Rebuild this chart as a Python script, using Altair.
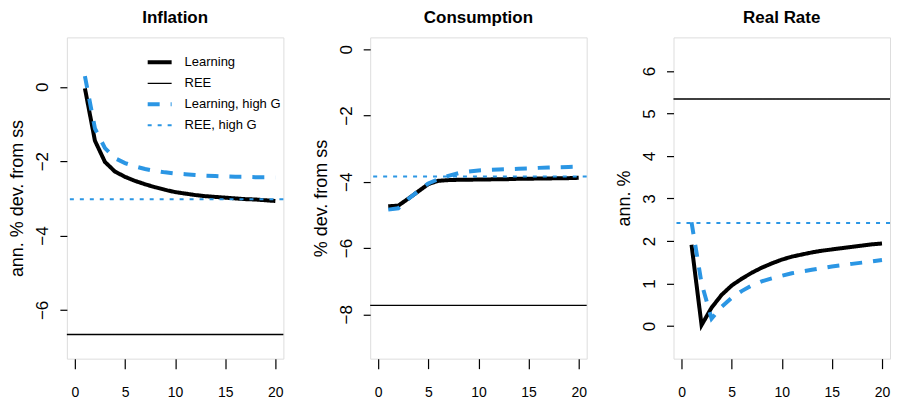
import altair as alt
import pandas as pd

# ---------------- data ----------------
periods = list(range(1, 21))
series_names = ["Learning", "REE", "Learning, high G", "REE, high G"]

infl_learn = [-0.04, -1.45, -2.02, -2.28, -2.42, -2.53, -2.62, -2.70, -2.77, -2.83,
              -2.87, -2.91, -2.94, -2.96, -2.98, -3.00, -3.02, -3.03, -3.05, -3.07]
infl_learn_g = [0.29, -1.12, -1.65, -1.92, -2.05, -2.14, -2.21, -2.26, -2.30, -2.33,
                -2.35, -2.37, -2.39, -2.40, -2.41, -2.42, -2.42, -2.43, -2.43, -2.44]
infl_ree = -6.66
infl_ree_g = -3.02

cons_learn = [-4.74, -4.72, -4.51, -4.29, -4.07, -3.97, -3.95, -3.94, -3.94, -3.93,
              -3.93, -3.92, -3.92, -3.91, -3.91, -3.90, -3.90, -3.89, -3.89, -3.88]
cons_learn_g = [-4.84, -4.80, -4.52, -4.28, -4.05, -3.92, -3.82, -3.74, -3.69, -3.66,
                -3.64, -3.63, -3.62, -3.61, -3.60, -3.58, -3.57, -3.56, -3.55, -3.54]
cons_ree = -7.73
cons_ree_g = -3.84

rate_learn = [1.91, 0.02, 0.43, 0.73, 0.95, 1.11, 1.25, 1.37, 1.47, 1.56,
              1.63, 1.68, 1.73, 1.77, 1.80, 1.83, 1.86, 1.89, 1.92, 1.94]
rate_learn_g = [2.44, 1.00, 0.17, 0.45, 0.66, 0.82, 0.95, 1.05, 1.12, 1.18,
                1.24, 1.28, 1.32, 1.36, 1.40, 1.43, 1.46, 1.49, 1.52, 1.55]
rate_ree = 5.34
rate_ree_g = 2.42

x_ticks = [0, 5, 10, 15, 20]

# ---------------- styling ----------------
BLUE = "#2B96E4"
colors = ["#000000", "#000000", BLUE, BLUE]
dashes = [[1, 0], [1, 0], [12, 11], [4, 6]]
widths = [4, 1.3, 4, 2]
FONT = "Liberation Sans, Arial"
W, H = 217, 322


def panel(title, ytitle, learn, learn_g, ree, ree_g, ydomain, yticks, show_legend):
    paths = pd.DataFrame({
        "t": periods + periods,
        "value": learn + learn_g,
        "series": ["Learning"] * 20 + ["Learning, high G"] * 20,
    })
    levels = pd.DataFrame({"value": [ree, ree_g], "series": ["REE", "REE, high G"]})

    if show_legend:
        leg = alt.Legend(title=None, orient="none", legendX=79, legendY=11,
                         symbolType="stroke", symbolSize=576, labelFont=FONT,
                         labelFontSize=13, labelColor="black", labelOffset=11,
                         rowPadding=-3, padding=0)
    else:
        leg = None

    color = alt.Color("series:N", scale=alt.Scale(type="ordinal", domain=series_names, range=colors), legend=leg)
    dash = alt.StrokeDash("series:N", scale=alt.Scale(type="ordinal", domain=series_names, range=dashes), legend=leg)
    sw = alt.StrokeWidth("series:N", scale=alt.Scale(type="ordinal", domain=series_names, range=widths), legend=leg)

    xenc = alt.X("t:Q", scale=alt.Scale(domain=[-0.8, 20.8], nice=False, zero=False),
                 axis=alt.Axis(values=x_ticks, title=None, tickSize=10, tickColor="black",
                               tickWidth=1.2, labelFont=FONT, labelFontSize=14,
                               labelColor="black", labelPadding=17, domain=False,
                               grid=False))
    yscale = alt.Scale(domain=ydomain, nice=False, zero=False)
    yaxis = alt.Axis(values=yticks, title=ytitle, tickSize=7, tickColor="black", tickWidth=1.2,
                     labelAngle=270, labelAlign="center", labelBaseline="bottom",
                     labelFont=FONT, labelFontSize=17, labelColor="black", labelPadding=8,
                     titleFont=FONT, titleFontSize=18, titleFontWeight="normal",
                     titleColor="black", titleAngle=270, titleX=-49, titleY=H / 2,
                     titleAlign="center", titleBaseline="middle", domain=False, grid=False)

    lines = alt.Chart(paths).mark_line(clip=True, strokeCap="butt").encode(
        x=xenc,
        y=alt.Y("value:Q", scale=yscale, axis=yaxis),
        color=color, strokeDash=dash, strokeWidth=sw,
        detail="series:N",
    )
    rules = alt.Chart(levels).mark_rule(strokeCap="butt").encode(
        y=alt.Y("value:Q", scale=yscale),
        color=color, strokeDash=dash, strokeWidth=sw,
    )
    return alt.layer(lines, rules).properties(
        width=W, height=H,
        title=alt.TitleParams(title, font=FONT, fontSize=17, fontWeight="bold",
                              color="black", anchor="middle", baseline="alphabetic",
                              offset=-3),
    )


p1 = panel("Inflation", "ann. % dev. from ss", infl_learn, infl_learn_g, infl_ree, infl_ree_g,
           [-7.31, 1.33], [-6, -4, -2, 0], True)
p2 = panel("Consumption", "% dev. from ss", cons_learn, cons_learn_g, cons_ree, cons_ree_g,
           [-9.34, 0.36], [-8, -6, -4, -2, 0], False)
p3 = panel("Real Rate", "ann. %", rate_learn, rate_learn_g, rate_ree, rate_ree_g,
           [-0.77, 6.79], [0, 1, 2, 3, 4, 5, 6], False)

chart = alt.hconcat(p1, p2, p3, spacing=87, bounds="flush").resolve_scale(
    y="independent", color="independent", strokeDash="independent", strokeWidth="independent"
).resolve_legend(color="independent", strokeDash="independent", strokeWidth="independent"
).properties(padding=0
).configure_view(stroke="black", strokeWidth=1.3).configure(background="white")

chart.save("out.html", embed_options={"renderer": "svg", "actions": False})
